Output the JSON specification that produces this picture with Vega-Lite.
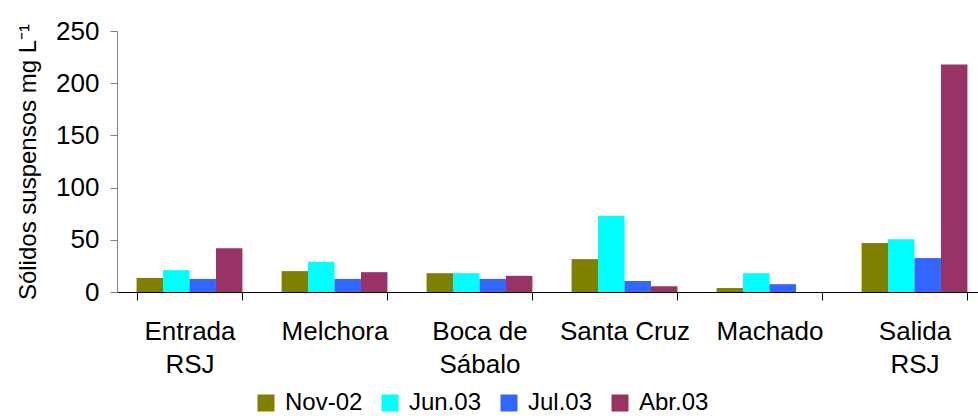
{
  "$schema": "https://vega.github.io/schema/vega-lite/v6.json",
  "autosize": "none",
  "width": 861,
  "height": 261,
  "padding": {"left": 117, "top": 31, "right": 0, "bottom": 124},
  "background": "white",
  "config": {
    "view": {"stroke": null},
    "font": "Liberation Sans",
    "axis": {"grid": false, "labelFont": "Liberation Sans", "titleFont": "Liberation Sans", "labelColor": "#000", "titleColor": "#000"}
  },
  "data": {
    "values": [
      {"site": "Entrada\nRSJ", "period": "Nov-02", "value": 13.5},
      {"site": "Entrada\nRSJ", "period": "Jun.03", "value": 21},
      {"site": "Entrada\nRSJ", "period": "Jul.03", "value": 12.5},
      {"site": "Entrada\nRSJ", "period": "Abr.03", "value": 42},
      {"site": "Melchora", "period": "Nov-02", "value": 20},
      {"site": "Melchora", "period": "Jun.03", "value": 29},
      {"site": "Melchora", "period": "Jul.03", "value": 12.5},
      {"site": "Melchora", "period": "Abr.03", "value": 19},
      {"site": "Boca de\nSábalo", "period": "Nov-02", "value": 18},
      {"site": "Boca de\nSábalo", "period": "Jun.03", "value": 18},
      {"site": "Boca de\nSábalo", "period": "Jul.03", "value": 12.5},
      {"site": "Boca de\nSábalo", "period": "Abr.03", "value": 15.5},
      {"site": "Santa Cruz", "period": "Nov-02", "value": 31.5},
      {"site": "Santa Cruz", "period": "Jun.03", "value": 73},
      {"site": "Santa Cruz", "period": "Jul.03", "value": 10.5},
      {"site": "Santa Cruz", "period": "Abr.03", "value": 5.5},
      {"site": "Machado", "period": "Nov-02", "value": 3.8},
      {"site": "Machado", "period": "Jun.03", "value": 18},
      {"site": "Machado", "period": "Jul.03", "value": 7.5},
      {"site": "Machado", "period": "Abr.03", "value": 0},
      {"site": "Salida\nRSJ", "period": "Nov-02", "value": 47},
      {"site": "Salida\nRSJ", "period": "Jun.03", "value": 50.5},
      {"site": "Salida\nRSJ", "period": "Jul.03", "value": 32.5},
      {"site": "Salida\nRSJ", "period": "Abr.03", "value": 218}
    ]
  },
  "mark": {"type": "bar"},
  "encoding": {
    "x": {
      "field": "site",
      "type": "nominal",
      "sort": null,
      "scale": {"range": [0, 870], "paddingInner": 0.27, "paddingOuter": 0.135},
      "axis": {
        "title": null,
        "labelAngle": 0,
        "labelFontSize": 26,
        "labelExpr": "split(datum.label, '\\n')",
        "labelLineHeight": 33,
        "labelPadding": 18,
        "tickBand": "extent",
        "tickSize": 8,
        "tickColor": "#000",
        "domainColor": "#000",
        "labelBound": false,
        "labelOverlap": false
      }
    },
    "xOffset": {"field": "period", "type": "nominal", "sort": ["Nov-02", "Jun.03", "Jul.03", "Abr.03"]},
    "y": {
      "field": "value",
      "type": "quantitative",
      "scale": {"domain": [0, 250], "nice": false},
      "axis": {
        "title": "Sólidos suspensos mg L⁻¹",
        "titleFontSize": 24,
        "titleFontWeight": "normal",
        "titlePadding": 15,
        "values": [0, 50, 100, 150, 200, 250],
        "labelFontSize": 26,
        "labelPadding": 11,
        "tickSize": 7,
        "tickColor": "#808080",
        "domainColor": "#808080"
      }
    },
    "color": {
      "field": "period",
      "type": "nominal",
      "sort": ["Nov-02", "Jun.03", "Jul.03", "Abr.03"],
      "scale": {"domain": ["Nov-02", "Jun.03", "Jul.03", "Abr.03"], "range": ["#808000", "#00FFFF", "#3366FF", "#993366"]},
      "legend": {
        "title": null,
        "orient": "none",
        "direction": "horizontal",
        "legendX": 137,
        "legendY": 360,
        "symbolType": "square",
        "symbolSize": 289,
        "symbolStrokeWidth": 0,
        "symbolOpacity": 1,
        "labelFontSize": 24,
        "labelFont": "Liberation Sans",
        "labelColor": "#000",
        "labelOffset": 7,
        "columnPadding": 15
      }
    }
  }
}
